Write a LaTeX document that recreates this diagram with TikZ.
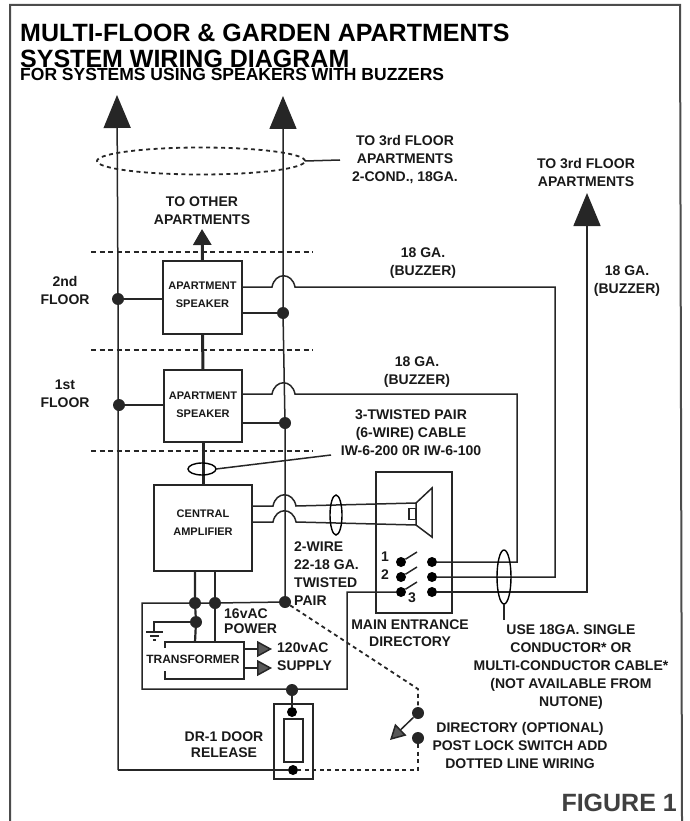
\documentclass[tikz,border=0pt]{standalone}
\usepackage{amsmath}
\usepackage{fontspec}
\setmainfont{Liberation Sans}
\usetikzlibrary{positioning,arrows.meta,shapes.geometric}
\tikzset{
  wire/.style={line width=1.5pt,black!85},
  bigwire/.style={line width=3pt,black!85},
  floorline/.style={line width=1.6pt,dash pattern=on 5pt off 3.5pt,black!85},
  dotline/.style={line width=1.8pt,dash pattern=on 4pt off 3.5pt,black!85},
  jdot/.style={circle,fill=black!85,inner sep=0pt,minimum size=12pt},
  sdot/.style={circle,fill=black,inner sep=0pt,minimum size=10pt},
  unit/.style={draw=black!85,line width=1.7pt,inner sep=0pt,outer sep=0pt},
  ring/.style={ellipse,draw=black,line width=1.4pt,inner sep=0pt,outer sep=0pt},
  lbl/.style={inner sep=0pt,align=center,text=black!90,font=\fontsize{14}{18}\selectfont\bfseries},
  boxlbl/.style={inner sep=0pt,align=center,text=black!90,font=\fontsize{11}{18}\selectfont\bfseries},
  uparrow/.style={-{Triangle[width=27pt,length=33pt]}},
  greyarrow/.style={-{Triangle[width=16pt,length=15pt,fill=black!65]}}
}
\newcommand{\hop}{.. controls +(3,-15) and +(-3,-15) .. ++(23,0)}
\begin{document}
\begin{tikzpicture}[x=1pt,y=-1pt]
\useasboundingbox (0,0) rectangle (689,821);
\draw[line width=2pt,black!70] (10,821) -- (10,5) -- (680,5) -- (682,821);

\node[anchor=west,inner sep=0pt,font=\fontsize{25}{25}\selectfont\bfseries] (titleA) at (20,33) {MULTI-FLOOR \& GARDEN APARTMENTS};
\node[anchor=west,inner sep=0pt,font=\fontsize{25}{25}\selectfont\bfseries] (titleB) at (20,59) {SYSTEM WIRING DIAGRAM};
\node[anchor=west,inner sep=0pt,font=\fontsize{17.5}{18}\selectfont\bfseries] (titleC) at (20,74) {FOR SYSTEMS USING SPEAKERS WITH BUZZERS};

\coordinate (riserAtop) at (117,95);
\coordinate (riserBtop) at (283,96);
\coordinate (feedtop) at (587,193);
\coordinate (othertop) at (202,229);
\node[unit,minimum width=79pt,minimum height=73pt] (aptB) at (202.5,297.5) {};
\node[unit,minimum width=78pt,minimum height=72pt] (aptA) at (203,406) {};
\node[unit,minimum width=98pt,minimum height=86pt] (amp) at (203,528) {};
\node[unit,minimum width=76pt,minimum height=141pt] (dir) at (414,542.5) {};
\node[unit,minimum width=39pt,minimum height=75pt] (door) at (293.5,741.5) {};
\node[unit,minimum width=19pt,minimum height=43pt] (doorslot) at (293.5,740.5) {};

\node[boxlbl] (aptBtext) at (202.5,295) {APARTMENT\\SPEAKER};
\node[boxlbl] (aptAtext) at (203,405) {APARTMENT\\SPEAKER};
\node[boxlbl] (amptext) at (203,523) {CENTRAL\\AMPLIFIER};

\foreach \y/\n in {252/C,350/B,451/A}
  \draw[floorline] (91,\y) -- (313,\y);

\node[jdot] (leftB) at (118,299) {};
\node[jdot] (leftA) at (119,405) {};
\node[jdot] (busB) at (283,313) {};
\node[jdot] (busA) at (285,423) {};
\node[jdot] (busend) at (285,602) {};
\node[jdot] (powerA) at (195,603) {};
\node[jdot] (powerB) at (215,603) {};
\node[jdot] (earth) at (196,622) {};
\node[jdot] (loop) at (292,690) {};
\node[sdot] (doorA) at (292,712) {};
\node[sdot] (doorB) at (293,770) {};
\node[jdot] (postA) at (418,713) {};
\node[jdot] (postB) at (418,738) {};

\coordinate (leftend) at (118,770);
\draw[wire,uparrow] (leftend) -- (leftB) -- (riserAtop);
\draw[wire] (leftend) -- (doorB);
\draw[wire,uparrow] (busend) -- (busA) -- (busB) -- (riserBtop);
\draw[wire] (aptB.west |- leftB) -- (leftB);
\draw[wire] (aptA.west |- leftA) -- (leftA);
\draw[wire] (aptB.east |- busB) -- (busB);
\draw[wire] (aptA.east |- busA) -- (busA);

\draw[bigwire] (aptA.north) -- (aptB.south);
\draw[bigwire] (amp.north) -- (aptA.south);
\draw[line width=3pt,black!85,-{Triangle[width=18pt,length=16pt]}] (aptB.north) -- (othertop);

\node[sdot] (swA) at (401,562) {};
\node[sdot] (swB) at (401,577) {};
\node[sdot] (swC) at (401,592) {};
\node[sdot] (termA) at (432,562) {};
\node[sdot] (termB) at (432,577) {};
\node[sdot] (termC) at (432,592) {};
\coordinate (leverA) at (417,552);
\coordinate (leverB) at (417,567);
\coordinate (leverC) at (417,582);
\draw[wire] (swA) -- (leverA);
\draw[wire] (swB) -- (leverB);
\draw[wire] (swC) -- (leverC);

\coordinate (hopB) at (272,287);
\coordinate (hopA) at (272,394);
\coordinate (cornerB) at (555,287);
\coordinate (cornerA) at (517,394);
\draw[wire] (aptB.east |- hopB) -- (hopB) \hop -- (cornerB) -- (cornerB |- termB) -- (termB);
\draw[wire] (aptA.east |- hopA) -- (hopA) \hop -- (cornerA) -- (cornerA |- termA) -- (termA);
\draw[wire,uparrow] (termC) -- (feedtop |- termC) -- (feedtop);

\coordinate (hopS) at (273,506);
\coordinate (hopT) at (273,522);
\node[unit,minimum width=7pt,minimum height=11pt] (magnet) at (412.5,514) {};
\coordinate (coneA) at (416,503);
\coordinate (coneB) at (432,488);
\coordinate (coneC) at (432,537);
\coordinate (coneD) at (416,525);
\draw[wire] (coneA) -- (coneB) -- (coneC) -- (coneD) -- cycle;
\draw[wire] (amp.east |- hopS) -- (hopS) \hop -- (coneA);
\draw[wire] (amp.east |- hopT) -- (hopT) \hop -- (coneD);

\coordinate (frameA) at (142,603);
\coordinate (frameB) at (142,689);
\coordinate (frameC) at (347,689);
\coordinate (frameD) at (347,592);
\draw[wire] (swC) -- (frameD) -- (frameC) -- (frameB) -- (frameA) -- (powerA) -- (powerB) -- (busend);
\draw[wire] (loop) -- (doorA);

\coordinate (xfmrA) at (195,642);
\coordinate (xfmrB) at (215,642);
\draw[line width=2.2pt,black!85] (amp.south -| powerA) -- (powerA) -- (earth) -- (xfmrA);
\draw[line width=2.2pt,black!85] (amp.south -| powerB) -- (powerB) -- (xfmrB);
\coordinate (xfmrNW) at (165,642);
\coordinate (xfmrNE) at (244,642);
\coordinate (xfmrSE) at (244,679);
\coordinate (xfmrSW) at (165,679);
\coordinate (xfmrGapA) at (165,648);
\coordinate (xfmrGapB) at (165,671);
\draw[wire] (xfmrGapA) -- (xfmrNW) -- (xfmrNE) -- (xfmrSE) -- (xfmrSW) -- (xfmrGapB);
\coordinate (supplyA) at (272,649);
\coordinate (supplyB) at (272,668);
\draw[wire,greyarrow] (xfmrNE |- supplyA) -- (supplyA);
\draw[wire,greyarrow] (xfmrNE |- supplyB) -- (supplyB);

\coordinate (gnd) at (154,622);
\coordinate (gndA) at (154,632);
\draw[wire] (earth) -- (gnd) -- (gndA);
\draw[wire] (146,632) -- (163,632);
\draw[wire] (150,636) -- (159,636);
\draw[wire] (153,640) -- (156,640);

\coordinate (dotbend) at (418,689);
\coordinate (dotfoot) at (418,770);
\draw[dotline] (busend) -- (dotbend) -- (postA);
\draw[dotline] (postB) -- (dotfoot) -- (doorB);
\coordinate (posttip) at (390,740);
\draw[wire,-{Triangle[width=16pt,length=15pt,fill=black!65]}] (postA) -- (posttip);

\node[ring,dotline,minimum width=208pt,minimum height=27pt] (ringtop) at (201,161) {};
\node[ring,minimum width=28pt,minimum height=12pt] (ringcable) at (202,469) {};
\node[ring,minimum width=12pt,minimum height=40pt] (ringtwist) at (336,515) {};
\node[ring,minimum width=14pt,minimum height=54pt] (ringuse) at (504,577) {};
\coordinate (leadtop) at (340,160);
\coordinate (leadcable) at (331,455);
\coordinate (leaduse) at (504,620);
\draw[wire] (ringtop.east) -- (leadtop);
\draw[wire] (ringcable.east) -- (leadcable);
\draw[wire] (ringuse.south) -- (leaduse);

\node[lbl] (toapts) at (405,160) {TO 3rd FLOOR\\APARTMENTS\\2-COND., 18GA.};
\node[lbl] (tofeed) at (586,172) {TO 3rd FLOOR\\APARTMENTS};
\node[lbl] (toother) at (202,211) {TO OTHER\\APARTMENTS};
\node[lbl] (gaB) at (423,263) {18 GA.\\(BUZZER)};
\node[lbl] (gaC) at (627,281) {18 GA.\\(BUZZER)};
\node[lbl] (gaA) at (417,372) {18 GA.\\(BUZZER)};
\node[lbl] (flB) at (65,290) {2nd\\FLOOR};
\node[lbl] (flA) at (65,394) {1st\\FLOOR};
\node[lbl] (cable) at (411,433) {3-TWISTED PAIR\\(6-WIRE) CABLE\\IW-6-200 0R IW-6-100};
\node[lbl,align=left,anchor=west] (twist) at (294,573.5) {2-WIRE\\22-18 GA.\\TWISTED\\PAIR};
\node[lbl,align=left,anchor=west,font=\fontsize{14}{15}\selectfont\bfseries] (power) at (224,621) {16vAC\\POWER};
\node[lbl,align=left,anchor=west] (supply) at (277,657) {120vAC\\SUPPLY};
\node[inner sep=0pt,font=\fontsize{12}{14}\selectfont\bfseries,text=black!90] (xfmr) at (193,659) {TRANSFORMER};
\node[lbl,font=\fontsize{14}{17}\selectfont\bfseries] (entrance) at (410,633.5) {MAIN ENTRANCE\\DIRECTORY};
\node[lbl] (use) at (571,667) {USE 18GA. SINGLE\\CONDUCTOR* OR\\MULTI-CONDUCTOR CABLE*\\(NOT AVAILABLE FROM\\NUTONE)};
\node[lbl] (post) at (520,745) {DIRECTORY (OPTIONAL)\\POST LOCK SWITCH ADD\\DOTTED LINE WIRING};
\node[lbl,font=\fontsize{14}{16}\selectfont\bfseries] (release) at (224,745) {DR-1 DOOR\\RELEASE};
\node[lbl] (numA) at (385,557) {1};
\node[lbl] (numB) at (385,575) {2};
\node[lbl] (numC) at (412,598) {3};
\node[anchor=east,inner sep=0pt,text=black!75,font=\fontsize{25}{25}\selectfont\bfseries] (figure) at (677,803) {FIGURE 1};
\end{tikzpicture}
\end{document}
